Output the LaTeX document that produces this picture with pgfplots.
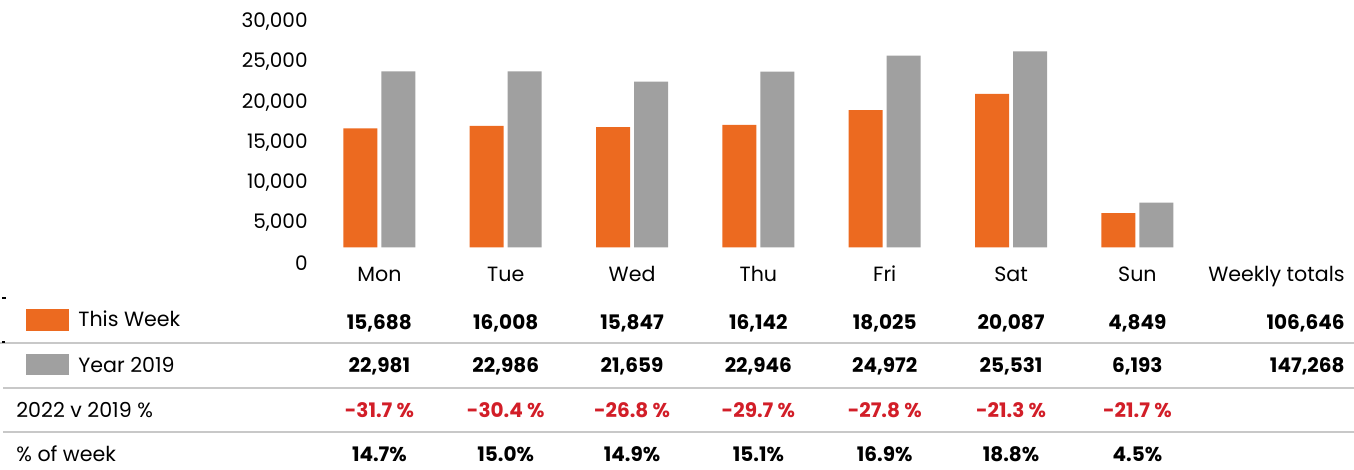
\documentclass[border=0pt]{standalone}
\usepackage{pgfplots}
\pgfplotsset{compat=1.18}
\usepackage{fontspec}
\setmainfont{Poppins}
\definecolor{orng}{RGB}{236,106,32}
\definecolor{gry}{RGB}{160,160,160}
\definecolor{redt}{RGB}{210,30,40}
\definecolor{linec}{RGB}{200,200,200}
\begin{document}
\begin{tikzpicture}[x=0.5pt,y=-0.5pt]
\path[use as bounding box] (0,0) rectangle (1354,470);
% bars
\begin{axis}[at={(158.1pt,-123.75pt)}, anchor=south west, scale only axis,
  width=505.33pt, height=115.54pt, xmin=-0.5, xmax=7.5, ymin=450, ymax=30000,
  hide axis, ybar, bar width=17pt]
\addplot[fill=orng, draw=none, bar shift=-9.5pt] coordinates
  {(0,15688) (1,16008) (2,15847) (3,16142) (4,18025) (5,20087) (6,4849)};
\addplot[fill=gry, draw=none, bar shift=9.5pt] coordinates
  {(0,22981) (1,22986) (2,21659) (3,22946) (4,24972) (5,25531) (6,6193)};
\end{axis}
% y tick labels
\begin{axis}[at={(154pt,-131.5pt)}, anchor=south west, scale only axis,
  width=5pt, height=120.65pt, xmin=0, xmax=1, ymin=0, ymax=30000,
  ytick={0,5000,10000,15000,20000,25000,30000}, xtick=\empty,
  axis line style={draw=none}, tick style={draw=none}, major tick length=0pt,
  scaled y ticks=false,
  yticklabel style={anchor=east, inner sep=0pt, font=\fontsize{10}{12}\selectfont},
  /pgf/number format/.cd, 1000 sep={,}, assume math mode=true]
\end{axis}
% category labels
\foreach \lab [count=\i from 0] in {Mon,Tue,Wed,Thu,Fri,Sat,Sun}{
  \node[anchor=base, inner sep=0pt, font=\fontsize{10.3}{12}\selectfont] at (379.4+126.33*\i,281.5) {\lab};
}
\node[anchor=base east, inner sep=0pt, font=\fontsize{10.3}{12}\selectfont] at (1345,281.5) {Weekly totals};
% table lines
\draw[linec, line width=0.8pt] (0,343) -- (1354,343);
\draw[linec, line width=0.8pt] (3,388) -- (1354,388);
\draw[linec, line width=0.8pt] (3,432) -- (1354,432);
\draw[black, line width=0.8pt] (2,298) -- (6,298);
\draw[black, line width=0.8pt] (2,342) -- (5,342);
% legend swatches and row labels
\fill[orng] (26,309.3) rectangle (69,330.7);
\fill[gry] (26,354) rectangle (69,374.7);
\begin{scope}[every node/.style={inner sep=0pt, font=\fontsize{10.3}{12}\selectfont}]
\node[anchor=base west] at (78,326) {This Week};
\node[anchor=base west] at (78,372) {Year 2019};
\node[anchor=base west] at (16,417) {2022 v 2019 \%};
\node[anchor=base west] at (16,461.7) {\% of week};
\end{scope}
% values
\begin{scope}[every node/.style={inner sep=0pt, font=\fontsize{10}{12}\selectfont\bfseries}]
\foreach \v [count=\i from 0] in {{15,688},{16,008},{15,847},{16,142},{18,025},{20,087},{4,849}}{
  \node[anchor=base] at (379.4+126.33*\i,329.3) {\v};}
\foreach \v [count=\i from 0] in {{22,981},{22,986},{21,659},{22,946},{24,972},{25,531},{6,193}}{
  \node[anchor=base] at (379.4+126.33*\i,372) {\v};}
\foreach \v [count=\i from 0] in {-31.7,-30.4,-26.8,-29.7,-27.8,-21.3,-21.7}{
  \node[anchor=base, text=redt] at (379.4+126.33*\i,417) {\v\ \%};}
\foreach \v [count=\i from 0] in {14.7,15.0,14.9,15.1,16.9,18.8,4.5}{
  \node[anchor=base] at (379.4+126.33*\i,461.7) {\v\%};}
\node[anchor=base east] at (1345,329.3) {106,646};
\node[anchor=base east] at (1345,372) {147,268};
\end{scope}
\end{tikzpicture}
\end{document}
